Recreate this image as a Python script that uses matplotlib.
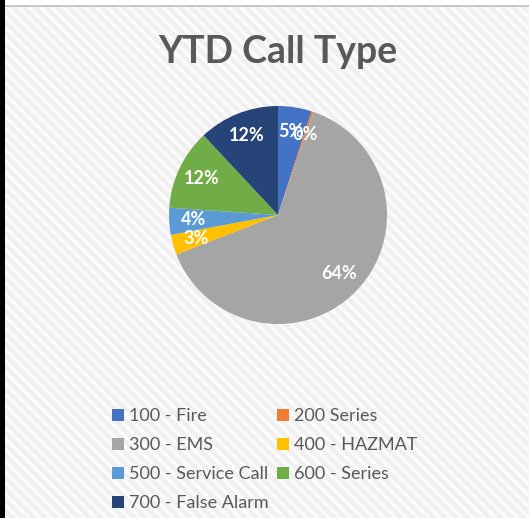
import matplotlib
matplotlib.use("Agg")
import matplotlib.pyplot as plt
from matplotlib.patches import Rectangle

categories = ["100 - Fire", "200 Series", "300 - EMS", "400 - HAZMAT",
              "500 - Service Call", "600 - Series", "700 - False Alarm"]
values = [5, 0.3, 64, 3, 4, 12, 12]
colors = ["#4472C4", "#ED7D31", "#A5A5A5", "#FFC000", "#5B9BD5", "#70AD47", "#264478"]
title = "YTD Call Type"

plt.rcParams['font.family'] = ['Lato', 'DejaVu Sans']
plt.rcParams['hatch.linewidth'] = 2.5
plt.rcParams['hatch.color'] = '#fbfbfb'

W, H = 529, 518
fig = plt.figure(figsize=(W / 100, H / 100), dpi=100)
fig.patch.set_facecolor('#f1f1f1')

# striped background
bg = Rectangle((0, 0), 1, 1, transform=fig.transFigure, facecolor='#f0f0f0',
               edgecolor='#fbfbfb', hatch='\\\\\\', linewidth=0, zorder=-10)
fig.patches.append(bg)
# top white strip and gray line
fig.patches.append(Rectangle((0, 1 - 5 / H), 1, 5 / H, transform=fig.transFigure,
                             facecolor='white', edgecolor='none', zorder=-5))
fig.patches.append(Rectangle((0, 1 - 7 / H), 1, 2 / H, transform=fig.transFigure,
                             facecolor='#c8c8c8', edgecolor='none', zorder=-5))
# left black strip
fig.patches.append(Rectangle((0, 0), 5 / W, 1, transform=fig.transFigure,
                             facecolor='black', edgecolor='none', zorder=-4))

ax = fig.add_axes([(278 - 109) / W, 1 - (215 + 109) / H, 218 / W, 218 / H])
wedges, texts, autotexts = ax.pie(
    values, colors=colors, startangle=90, counterclock=False,
    autopct=lambda p: f"{p:.0f}%", pctdistance=0.78,
    wedgeprops=dict(linewidth=0),
    textprops=dict(color='white', fontsize=13, fontweight='bold'))
ax.set_xlim(-1, 1)
ax.set_ylim(-1, 1)
ax.set_aspect('equal')
ax.axis('off')

fig.text(278 / W, 1 - 52 / H, title, ha='center', va='center',
         fontsize=27, fontweight='bold', color='#595959')

order = [0, 2, 4, 6, 1, 3, 5]
leg = fig.legend([wedges[i] for i in order], [categories[i] for i in order],
                 ncol=2, loc='upper left', bbox_to_anchor=(112 / W, 1 - 408 / H),
                 frameon=False, fontsize=13, handlelength=0.65, handleheight=0.65,
                 handletextpad=0.3, columnspacing=0.45, labelspacing=0.72,
                 borderaxespad=0, borderpad=0)
for t in leg.get_texts():
    t.set_color('#595959')

fig.savefig("out.png", dpi=100, facecolor=fig.get_facecolor())
